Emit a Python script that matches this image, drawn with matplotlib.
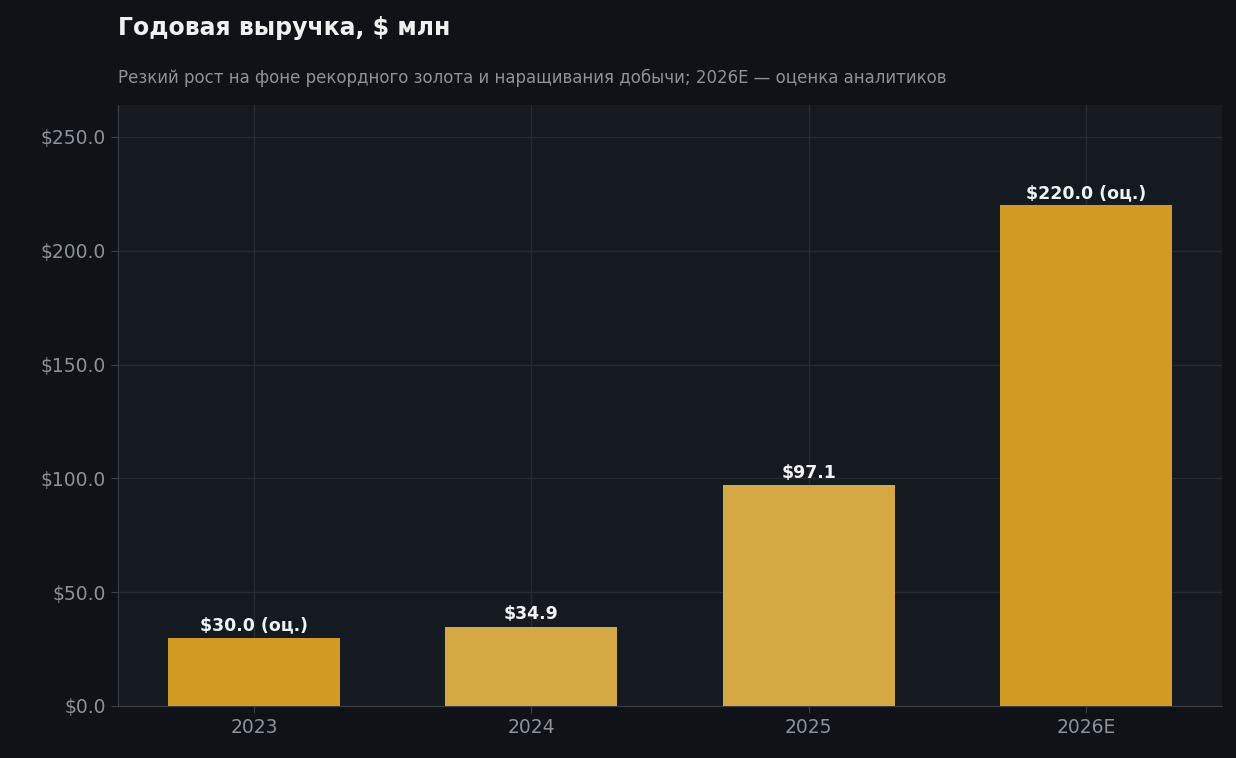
import matplotlib
matplotlib.use("Agg")
import matplotlib.pyplot as plt

plt.rcParams['font.family'] = ['DejaVu Sans']

categories = ["2023", "2024", "2025", "2026E"]
values = [30.0, 34.9, 97.1, 220.0]
labels = ["$30.0 (оц.)", "$34.9", "$97.1", "$220.0 (оц.)"]
estimate = [True, False, False, True]

fig = plt.figure(figsize=(12.36, 7.58), dpi=100, facecolor="#0f1317")
ax = fig.add_axes([118/1236, 1-706/758, (1222-118)/1236, (706-105)/758])
ax.set_facecolor("#151a21")
colors = ["#d19a22" if e else "#d4a944" for e in estimate]
x = range(len(categories))
ax.bar(x, values, width=0.62, color=colors, zorder=3)
for xi, v, l in zip(x, values, labels):
    ax.text(xi, v + 1.5, l, ha="center", va="bottom", color="#f0f2f4",
            fontsize=12.5, fontweight="bold", zorder=4)
ax.set_xticks(list(x))
ax.set_xticklabels(categories)
ax.set_xlim(-0.49, 3.49)
ax.set_ylim(0, 264)
ax.set_yticks([0, 50, 100, 150, 200, 250])
ax.set_yticklabels([f"${t:.1f}" for t in [0, 50, 100, 150, 200, 250]])
ax.tick_params(colors="#8b929a", labelsize=13.5)
ax.tick_params(axis="both", length=5, color="#3a4048")
ax.grid(True, color="#252b33", linewidth=1, zorder=0)
for s in ["top", "right"]:
    ax.spines[s].set_visible(False)
for s in ["left", "bottom"]:
    ax.spines[s].set_color("#3a4048")
fig.text(118/1236, 1-28/758, "Годовая выручка, $ млн", color="#eef0f2",
         fontsize=17, fontweight="bold", va="center", ha="left")
fig.text(118/1236, 1-78/758,
         "Резкий рост на фоне рекордного золота и наращивания добычи; 2026E — оценка аналитиков",
         color="#8b929a", fontsize=12, va="center", ha="left")
fig.savefig("out.png", dpi=100, facecolor=fig.get_facecolor())
